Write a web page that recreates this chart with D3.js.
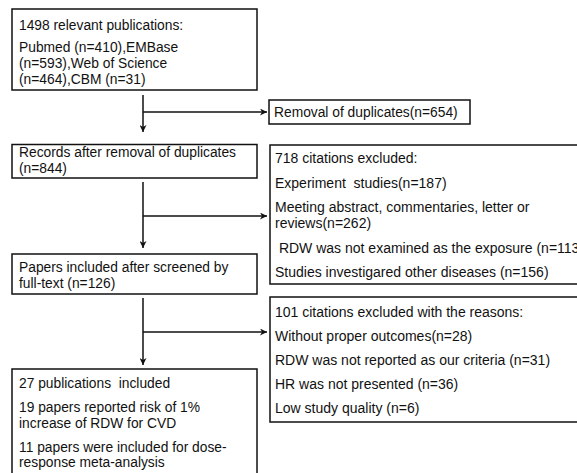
<!DOCTYPE html>
<html>
<head>
<meta charset="utf-8">
<script src="https://cdn.jsdelivr.net/npm/d3@7"></script>
<style>
  body { margin: 0; background: #fff; }
  svg text { font-family: "Liberation Sans", Arial, sans-serif; fill: #111; }
</style>
</head>
<body>
<div id="chart"></div>
<script>
// box texts: each entry is a paragraph, each paragraph a list of lines
const searchText = [["1498 relevant publications:"], ["Pubmed (n=410),EMBase", "(n=593),Web of Science", "(n=464),CBM (n=31)"]];
const dedupText = [["Records after removal of duplicates", "(n=844)"]];
const removedText = [["Removal of duplicates(n=654)"]];
const screenedText = [["Papers included after screened by", "full-text (n=126)"]];
const excluded1Text = [["718 citations excluded:"], ["Experiment  studies(n=187)"],
  ["Meeting abstract, commentaries, letter or", "reviews(n=262)"],
  [" RDW was not examined as the exposure (n=113)"], ["Studies investigared other diseases (n=156)"]];
const excluded2Text = [["101 citations excluded with the reasons:"], ["Without proper outcomes(n=28)"],
  ["RDW was not reported as our criteria (n=31)"], ["HR was not presented (n=36)"], ["Low study quality (n=6)"]];
const includedText = [["27 publications  included"], ["19 papers reported risk of 1%", "increase of RDW for CVD"],
  ["11 papers were included for dose-", "response meta-analysis"]];

// layout
const W = 577, H = 473;
const boxes = [
  { text: searchText, x: 12, y: 9, w: 245, h: 81, ty: 30, fs: 13.8, lh: 16, gap: 6 },
  { text: dedupText, x: 12, y: 144.5, w: 245, h: 33.5, ty: 156.5, fs: 13.8, lh: 16, gap: 0 },
  { text: screenedText, x: 12, y: 254, w: 245, h: 40, ty: 272, fs: 13.8, lh: 16, gap: 0 },
  { text: includedText, x: 12, y: 369, w: 245, h: 110, ty: 388, fs: 13.8, lh: 15.5, gap: 8.5 },
  { text: removedText, x: 269, y: 100, w: 201, h: 24, ty: 117, fs: 13.8, lh: 16, gap: 0, dx: 5 },
  { text: excluded1Text, x: 270, y: 145, w: 320, h: 139, ty: 163, fs: 14, lh: 16, gap: 8.5, dx: 5 },
  { text: excluded2Text, x: 270, y: 297, w: 320, h: 125, ty: 317, fs: 14, lh: 16, gap: 8, dx: 5 }
];
const mainX = 143, arrowX = 267;
const links = [
  { y1: 95, y2: 132, by: 112 },
  { y1: 182, y2: 248, by: 216 },
  { y1: 298, y2: 365, by: 332 }
];

const svg = d3.select("#chart").append("svg")
  .attr("width", W).attr("height", H);

svg.append("defs").append("marker")
  .attr("id", "arr")
  .attr("viewBox", "0 0 10 10")
  .attr("refX", 10).attr("refY", 5)
  .attr("markerWidth", 7).attr("markerHeight", 7)
  .attr("markerUnits", "userSpaceOnUse")
  .attr("orient", "auto")
  .append("path").attr("d", "M0,0L10,5L0,10L3,5z").attr("fill", "#111");

const g = svg.selectAll("g.box").data(boxes).enter().append("g").attr("class", "box");
g.append("rect")
  .attr("x", d => d.x).attr("y", d => d.y)
  .attr("width", d => d.w).attr("height", d => d.h)
  .attr("fill", "#fff").attr("stroke", "#111").attr("stroke-width", 1.5);

g.each(function (d) {
  let y = d.ty;
  const sel = d3.select(this);
  d.text.forEach(para => {
    para.forEach(line => {
      sel.append("text").attr("x", d.x + (d.dx || 7)).attr("y", y)
        .style("font-size", d.fs + "px")
        .attr("xml:space", "preserve").style("white-space", "pre").text(line);
      y += d.lh;
    });
    y += d.gap;
  });
});

links.forEach(l => {
  svg.append("line").attr("x1", mainX).attr("x2", mainX).attr("y1", l.y1).attr("y2", l.y2)
    .attr("stroke", "#111").attr("stroke-width", 1.5).attr("marker-end", "url(#arr)");
  svg.append("line").attr("x1", mainX).attr("x2", arrowX).attr("y1", l.by).attr("y2", l.by)
    .attr("stroke", "#111").attr("stroke-width", 1.5).attr("marker-end", "url(#arr)");
});
</script>
</body>
</html>
